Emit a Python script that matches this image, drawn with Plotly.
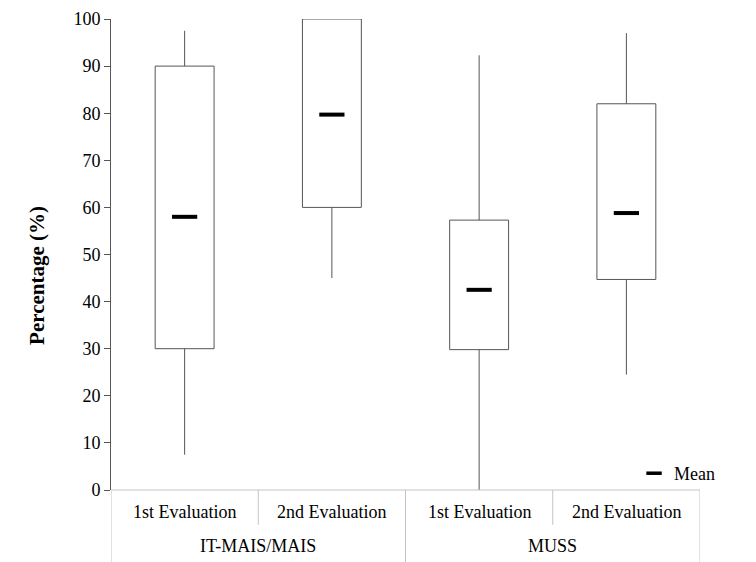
import plotly.graph_objects as go

# ---- data ----
sub_labels = ["1st Evaluation", "2nd Evaluation", "1st Evaluation", "2nd Evaluation"]
group_labels = ["IT-MAIS/MAIS", "MUSS"]
lower_whisker = [7.5, 45.0, 0.0, 24.5]
q1_values = [30.0, 60.0, 29.8, 44.7]
q3_values = [90.0, 100.0, 57.3, 82.0]
upper_whisker = [97.5, 100.0, 92.3, 97.0]
mean_values = [58.0, 79.7, 42.5, 58.8]
y_ticks = [0, 10, 20, 30, 40, 50, 60, 70, 80, 90, 100]

pos = [i + 0.5 for i in range(len(sub_labels))]
FONT = "Liberation Serif"
LINE = "#555555"
GRID = "#c4c4c4"

fig = go.Figure()

# whiskers (lines from data)
wx, wy = [], []
for p, lo, q1, q3, hi in zip(pos, lower_whisker, q1_values, q3_values, upper_whisker):
    wx += [p, p, None, p, p, None]
    wy += [lo, q1, None, q3, hi, None]
fig.add_trace(go.Scatter(x=wx, y=wy, mode="lines", line=dict(color=LINE, width=1),
                         showlegend=False, hoverinfo="skip"))

# boxes
fig.add_trace(go.Bar(
    x=pos, base=q1_values, y=[b - a for a, b in zip(q1_values, q3_values)],
    width=0.4, marker=dict(color="white", line=dict(color=LINE, width=1)),
    showlegend=False,
))

# means
fig.add_trace(go.Scatter(
    x=pos, y=mean_values, mode="markers", name="Mean", showlegend=False,
    marker=dict(symbol="line-ew", size=18, line=dict(color="black", width=4)),
))
# legend entry for the mean marker
fig.add_trace(go.Scatter(
    x=[None], y=[None], mode="markers", name="Mean",
    marker=dict(symbol="line-ew", size=11, line=dict(color="black", width=3.5)),
))

# table-like category axis
shapes = []
for i in range(len(sub_labels) + 1):
    bottom = -0.162 if i % 2 == 0 else -0.074
    shapes.append(dict(type="line", xref="x", yref="paper", x0=i, x1=i, y0=0, y1=bottom,
                       line=dict(color=GRID, width=1)))
shapes.append(dict(type="line", xref="x", yref="paper", x0=0, x1=len(sub_labels), y0=0, y1=0,
                   line=dict(color=GRID, width=1)))

annotations = []
for p, lab in zip(pos, sub_labels):
    annotations.append(dict(x=p, y=-0.047, xref="x", yref="paper", text=lab, showarrow=False,
                            font=dict(family=FONT, size=18, color="black"), yanchor="middle"))
for g, lab in enumerate(group_labels):
    annotations.append(dict(x=2 * g + 1, y=-0.118, xref="x", yref="paper", text=lab, showarrow=False,
                            font=dict(family=FONT, size=18, color="black"), yanchor="middle"))
annotations.append(dict(x=-0.127, y=0.455, xref="paper", yref="paper", text="<b>Percentage (%)</b>",
                        textangle=-90, showarrow=False, xanchor="center", yanchor="middle",
                        font=dict(family=FONT, size=21, color="black")))

fig.update_layout(
    width=756, height=562,
    margin=dict(l=103, r=64, t=11, b=80, autoexpand=False),
    paper_bgcolor="white", plot_bgcolor="white",
    font=dict(family=FONT, size=18, color="black"),
    shapes=shapes, annotations=annotations,
    showlegend=True,
    legend=dict(x=0.888, y=0.035, xanchor="left", yanchor="middle",
                font=dict(family=FONT, size=18), bgcolor="rgba(0,0,0,0)",
                itemwidth=30),
    xaxis=dict(range=[0, 4], showticklabels=False, showgrid=False, zeroline=False,
               showline=False, ticks="", automargin=False),
    yaxis=dict(range=[0, 100], tickvals=y_ticks, showgrid=False, zeroline=False,
               showline=True, linecolor=LINE, linewidth=1, ticks="outside", ticklen=6,
               tickcolor=LINE, tickfont=dict(family=FONT, size=18), automargin=False,
               ticklabeloverflow="allow"),
)

fig.write_html("out.html")
